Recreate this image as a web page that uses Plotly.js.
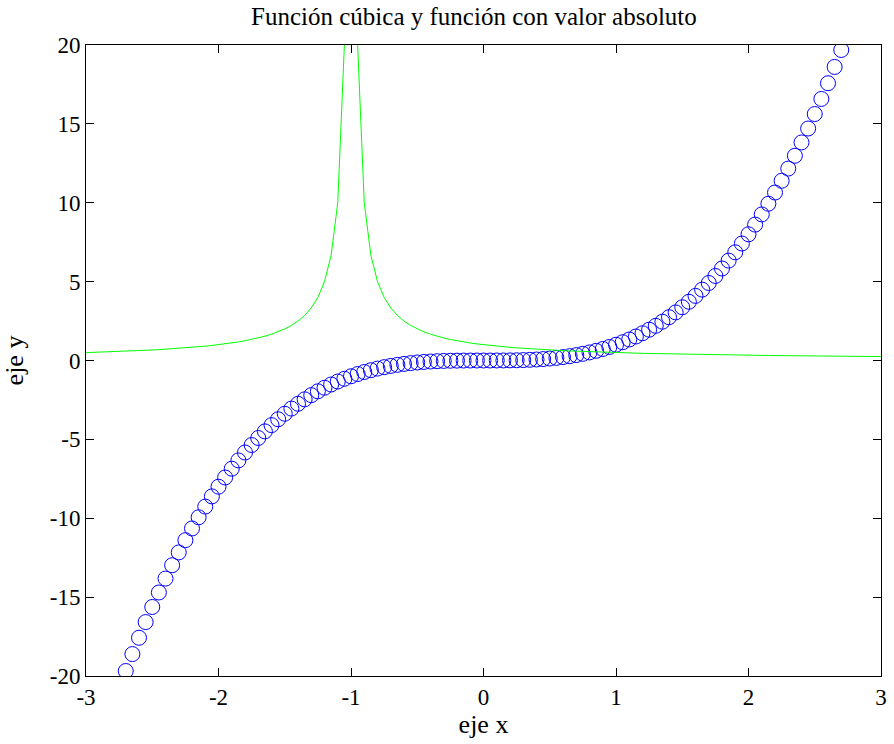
<!DOCTYPE html>
<html>
<head>
<meta charset="utf-8">
<script src="https://cdn.plot.ly/plotly-3.0.1.min.js"></script>
<style>html,body{margin:0;padding:0;background:#fff;}#chart{width:894px;height:744px;}</style>
</head>
<body>
<div id="chart"></div>
<script>
// Cubic series (blue circles), x from -2.7 to 2.7 step 0.05
const xCube = [-2.7,-2.65,-2.6,-2.55,-2.5,-2.45,-2.4,-2.35,-2.3,-2.25,-2.2,-2.15,-2.1,-2.05,-2.0,-1.95,-1.9,-1.85,-1.8,-1.75,-1.7,-1.65,-1.6,-1.55,-1.5,-1.45,-1.4,-1.35,-1.3,-1.25,-1.2,-1.15,-1.1,-1.05,-1.0,-0.95,-0.9,-0.85,-0.8,-0.75,-0.7,-0.65,-0.6,-0.55,-0.5,-0.45,-0.4,-0.35,-0.3,-0.25,-0.2,-0.15,-0.1,-0.05,0,0.05,0.1,0.15,0.2,0.25,0.3,0.35,0.4,0.45,0.5,0.55,0.6,0.65,0.7,0.75,0.8,0.85,0.9,0.95,1.0,1.05,1.1,1.15,1.2,1.25,1.3,1.35,1.4,1.45,1.5,1.55,1.6,1.65,1.7,1.75,1.8,1.85,1.9,1.95,2.0,2.05,2.1,2.15,2.2,2.25,2.3,2.35,2.4,2.45,2.5,2.55,2.6,2.65,2.7];
const yCube = [-19.683,-18.610,-17.576,-16.581,-15.625,-14.706,-13.824,-12.978,-12.167,-11.391,-10.648,-9.938,-9.261,-8.615,-8.0,-7.415,-6.859,-6.332,-5.832,-5.359,-4.913,-4.492,-4.096,-3.724,-3.375,-3.049,-2.744,-2.460,-2.197,-1.953,-1.728,-1.521,-1.331,-1.158,-1.0,-0.857,-0.729,-0.614,-0.512,-0.422,-0.343,-0.275,-0.216,-0.166,-0.125,-0.091,-0.064,-0.043,-0.027,-0.016,-0.008,-0.003,-0.001,0.000,0,0.000,0.001,0.003,0.008,0.016,0.027,0.043,0.064,0.091,0.125,0.166,0.216,0.275,0.343,0.422,0.512,0.614,0.729,0.857,1.0,1.158,1.331,1.521,1.728,1.953,2.197,2.460,2.744,3.049,3.375,3.724,4.096,4.492,4.913,5.359,5.832,6.332,6.859,7.415,8.0,8.615,9.261,9.938,10.648,11.391,12.167,12.978,13.824,14.706,15.625,16.581,17.576,18.610,19.683];

// Absolute-value series (green line), x from -3 to 3 step 0.05, gap at x = -1
const xAbs = [-3.0,-2.95,-2.9,-2.85,-2.8,-2.75,-2.7,-2.65,-2.6,-2.55,-2.5,-2.45,-2.4,-2.35,-2.3,-2.25,-2.2,-2.15,-2.1,-2.05,-2.0,-1.95,-1.9,-1.85,-1.8,-1.75,-1.7,-1.65,-1.6,-1.55,-1.5,-1.45,-1.4,-1.35,-1.3,-1.25,-1.2,-1.15,-1.1,-1.05,-1.0,-0.95,-0.9,-0.85,-0.8,-0.75,-0.7,-0.65,-0.6,-0.55,-0.5,-0.45,-0.4,-0.35,-0.3,-0.25,-0.2,-0.15,-0.1,-0.05,0,0.05,0.1,0.15,0.2,0.25,0.3,0.35,0.4,0.45,0.5,0.55,0.6,0.65,0.7,0.75,0.8,0.85,0.9,0.95,1.0,1.05,1.1,1.15,1.2,1.25,1.3,1.35,1.4,1.45,1.5,1.55,1.6,1.65,1.7,1.75,1.8,1.85,1.9,1.95,2.0,2.05,2.1,2.15,2.2,2.25,2.3,2.35,2.4,2.45,2.5,2.55,2.6,2.65,2.7,2.75,2.8,2.85,2.9,2.95,3.0];
const yAbs = [0.5,0.5128,0.5263,0.5405,0.5556,0.5714,0.5882,0.6061,0.625,0.6452,0.6667,0.6897,0.7143,0.7407,0.7692,0.8,0.8333,0.8696,0.9091,0.9524,1.0,1.0526,1.1111,1.1765,1.25,1.3333,1.4286,1.5385,1.6667,1.8182,2.0,2.2222,2.5,2.8571,3.3333,4.0,5.0,6.6667,10.0,20.0,null,20.0,10.0,6.6667,5.0,4.0,3.3333,2.8571,2.5,2.2222,2.0,1.8182,1.6667,1.5385,1.4286,1.3333,1.25,1.1765,1.1111,1.0526,1.0,0.9524,0.9091,0.8696,0.8333,0.8,0.7692,0.7407,0.7143,0.6897,0.6667,0.6452,0.625,0.6061,0.5882,0.5714,0.5556,0.5405,0.5263,0.5128,0.5,0.4878,0.4762,0.4651,0.4545,0.4444,0.4348,0.4255,0.4167,0.4082,0.4,0.3922,0.3846,0.3774,0.3704,0.3636,0.3571,0.3509,0.3448,0.339,0.3333,0.3279,0.3226,0.3175,0.3125,0.3077,0.303,0.2985,0.2941,0.2899,0.2857,0.2817,0.2778,0.274,0.2703,0.2667,0.2632,0.2597,0.2564,0.2532,0.25];

const xTickVals = [-3,-2,-1,0,1,2,3];
const xTickText = ["-3","-2","-1","0","1","2","3"];
const yTickVals = [-20,-15,-10,-5,0,5,10,15,20];
const yTickText = ["-20","-15","-10","-5","0","5","10","15","20"];

const font = "Liberation Serif, Times New Roman, serif";

const traces = [
  {x: xCube, y: yCube, type: 'scatter', mode: 'markers',
   marker: {symbol: 'circle-open', size: 15, color: '#0000ff', line: {width: 1, color: '#0000ff'}},
   hoverinfo: 'skip', showlegend: false},
  {x: xAbs, y: yAbs, type: 'scatter', mode: 'lines', connectgaps: false,
   line: {color: '#00ff00', width: 1}, hoverinfo: 'skip', showlegend: false}
];

const axisCommon = {
  showgrid: false, zeroline: false, showline: true, linecolor: '#000', linewidth: 1,
  mirror: 'ticks', ticks: 'inside', ticklen: 8, tickwidth: 1, tickcolor: '#000',
  tickfont: {family: font, size: 23, color: '#000'}
};

const layout = {
  width: 894, height: 744,
  margin: {l: 86, r: 13, t: 45, b: 68, pad: 0},
  paper_bgcolor: '#fff', plot_bgcolor: '#fff',
  font: {family: font, color: '#000'},
  title: {text: 'Función cúbica y función con valor absoluto', x: 0.488, xref: 'paper', xanchor: 'center', y: 0.978, yanchor: 'middle',
          font: {family: font, size: 25, color: '#000'}},
  xaxis: Object.assign({}, axisCommon, {range: [-3, 3], tickmode: 'array', tickvals: xTickVals, ticktext: xTickText,
          title: {text: 'eje x', font: {family: font, size: 26, color: '#000'}, standoff: 6}}),
  yaxis: Object.assign({}, axisCommon, {range: [-20, 20], tickmode: 'array', tickvals: yTickVals, ticktext: yTickText,
          title: {text: 'eje y', font: {family: font, size: 26, color: '#000'}, standoff: 18}})
};

Plotly.newPlot('chart', traces, layout, {staticPlot: true, displayModeBar: false});
</script>
</body>
</html>
